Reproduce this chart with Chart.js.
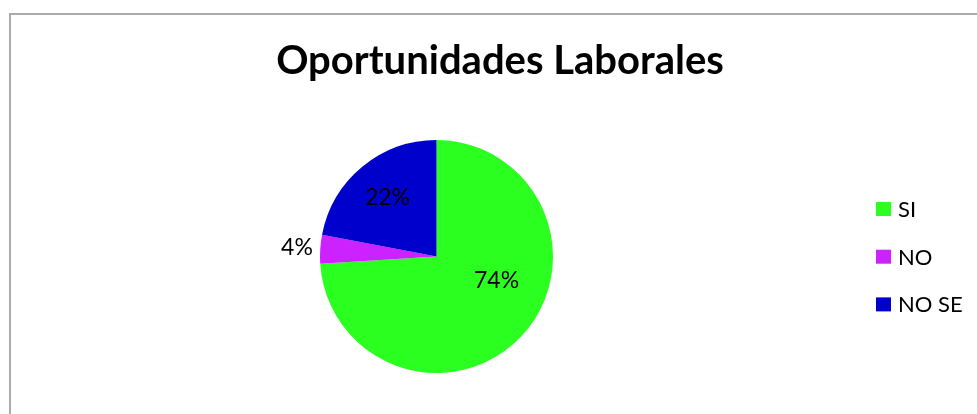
<!DOCTYPE html>
<html><head><meta charset="utf-8">
<script src="https://cdn.jsdelivr.net/npm/chart.js@4/dist/chart.umd.min.js"></script>
<style>html,body{margin:0;padding:0;background:#fff}#wrap{width:977px;height:414px;position:relative}</style>
</head><body><div id="wrap"><canvas id="c" width="977" height="414"></canvas></div>
<script>
const title = "Oportunidades Laborales";
const categories = ["SI", "NO", "NO SE"];
const values = [74, 4, 22];
const colors = ["#2aff20", "#cc22ff", "#0000cc"];
// label placement: [angle (deg clockwise from top), radius fraction]
const labelPlace = [[111.8, 0.555], [273.6, 1.2], [320.4, 0.66]];

const FONT = "Lato, 'Open Sans', sans-serif";
const deco = {
  id: 'deco',
  afterDraw(chart) {
    const ctx = chart.ctx;
    ctx.save();
    // frame
    ctx.strokeStyle = '#ababab';
    ctx.lineWidth = 2;
    ctx.beginPath();
    ctx.moveTo(10, 430); ctx.lineTo(10, 14); ctx.lineTo(990, 14);
    ctx.stroke();
    // title
    ctx.fillStyle = '#000';
    ctx.font = "bold 40px " + FONT;
    ctx.textAlign = 'center'; ctx.textBaseline = 'middle';
    ctx.fillText(title, 500, 61);
    // slice labels
    const meta = chart.getDatasetMeta(0);
    const total = values.reduce((a, b) => a + b, 0);
    ctx.font = "23px " + FONT;
    meta.data.forEach((arc, i) => {
      const p = arc.getProps(['x', 'y', 'outerRadius'], true);
      const a = labelPlace[i][0] * Math.PI / 180;
      const r = p.outerRadius * labelPlace[i][1];
      const x = p.x + Math.sin(a) * r, y = p.y - Math.cos(a) * r;
      ctx.fillText(Math.round(values[i] / total * 100) + '%', x, y);
    });
    // legend
    ctx.textAlign = 'left';
    ctx.font = "22px " + FONT;
    categories.forEach((c, i) => {
      const y = 209 + i * 47.7;
      ctx.fillStyle = colors[i];
      ctx.fillRect(876, y - 7, 15, 14);
      ctx.fillStyle = '#000';
      ctx.fillText(c, 898, y + 1);
    });
    ctx.restore();
  }
};

new Chart(document.getElementById('c'), {
  type: 'pie',
  data: { labels: categories, datasets: [{ data: values, backgroundColor: colors, borderWidth: 0 }] },
  options: {
    responsive: false, animation: false,
    layout: { padding: { left: 320, right: 424, top: 140, bottom: 41 } },
    plugins: { legend: { display: false }, tooltip: { enabled: false }, title: { display: false } }
  },
  plugins: [deco]
});
</script></body></html>
